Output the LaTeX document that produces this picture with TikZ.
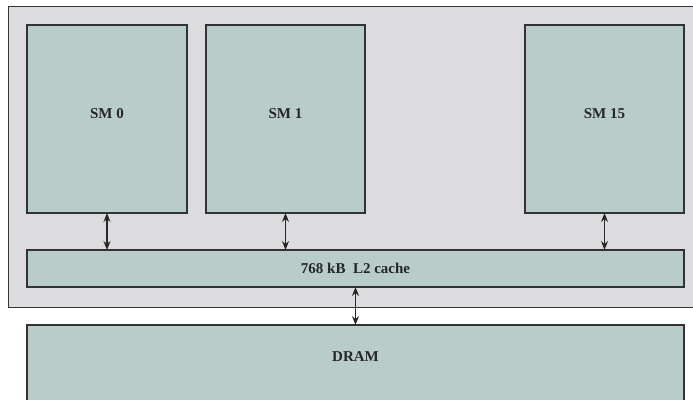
\documentclass[tikz,border=0pt]{standalone}
\usepackage{fontspec}
\setmainfont{Liberation Serif}
\usetikzlibrary{arrows.meta}
\definecolor{cChip}{HTML}{DCDCDE}
\definecolor{cUnit}{HTML}{B8CCC9}
\definecolor{cLine}{HTML}{333333}
\tikzset{
  chip/.style ={rectangle, draw=cLine, fill=cChip, line width=0.8pt,
                outer sep=0pt, anchor=north west},
  unit/.style ={rectangle, draw=cLine, fill=cUnit, line width=1.2pt,
                outer sep=0pt, anchor=north west, text=black!85,
                font=\bfseries\fontsize{15}{17}\selectfont},
  smbox/.style={unit, minimum width=159pt, minimum height=188pt, text depth=11pt},
  lbl/.style  ={font=\bfseries\fontsize{15}{17}\selectfont, text=black!85,
                inner sep=0pt},
  link/.style ={{Stealth[length=9pt,width=7pt,inset=3pt]}-{Stealth[length=9pt,width=7pt,inset=3pt]},
                line width=1.1pt, draw=black!85},
}
\begin{document}
\begin{tikzpicture}[x=1pt,y=-1pt]
  \useasboundingbox (0,0) rectangle (693,399);
  \clip (0,0) rectangle (693,399);
  \node[chip,minimum width=700pt,minimum height=301pt] (gpu) at (8,6) {};
  \node[smbox,minimum width=160pt] (sm0)  at (27,25)  {SM 0};
  \node[smbox] (sm1)  at (206,25) {SM 1};
  \node[smbox] (sm15) at (525,25) {SM 15};
  \node[unit,minimum width=657pt,minimum height=37pt]  (cache) at (27,250) {768 kB\ \ L2 cache};
  \node[unit,minimum width=657pt,minimum height=95pt]  (dram) at (27,325) {};
  \node[lbl] (dramlbl) at ([yshift=-32pt]dram.north) {DRAM};

  \draw[link] (sm0.south)  -- (sm0.south |- cache.north);
  \draw[link] (sm1.south)  -- (sm1.south |- cache.north);
  \draw[link] (sm15.south) -- (sm15.south |- cache.north);
  \draw[link] (cache.south) -- (dram.north);
\end{tikzpicture}
\end{document}
